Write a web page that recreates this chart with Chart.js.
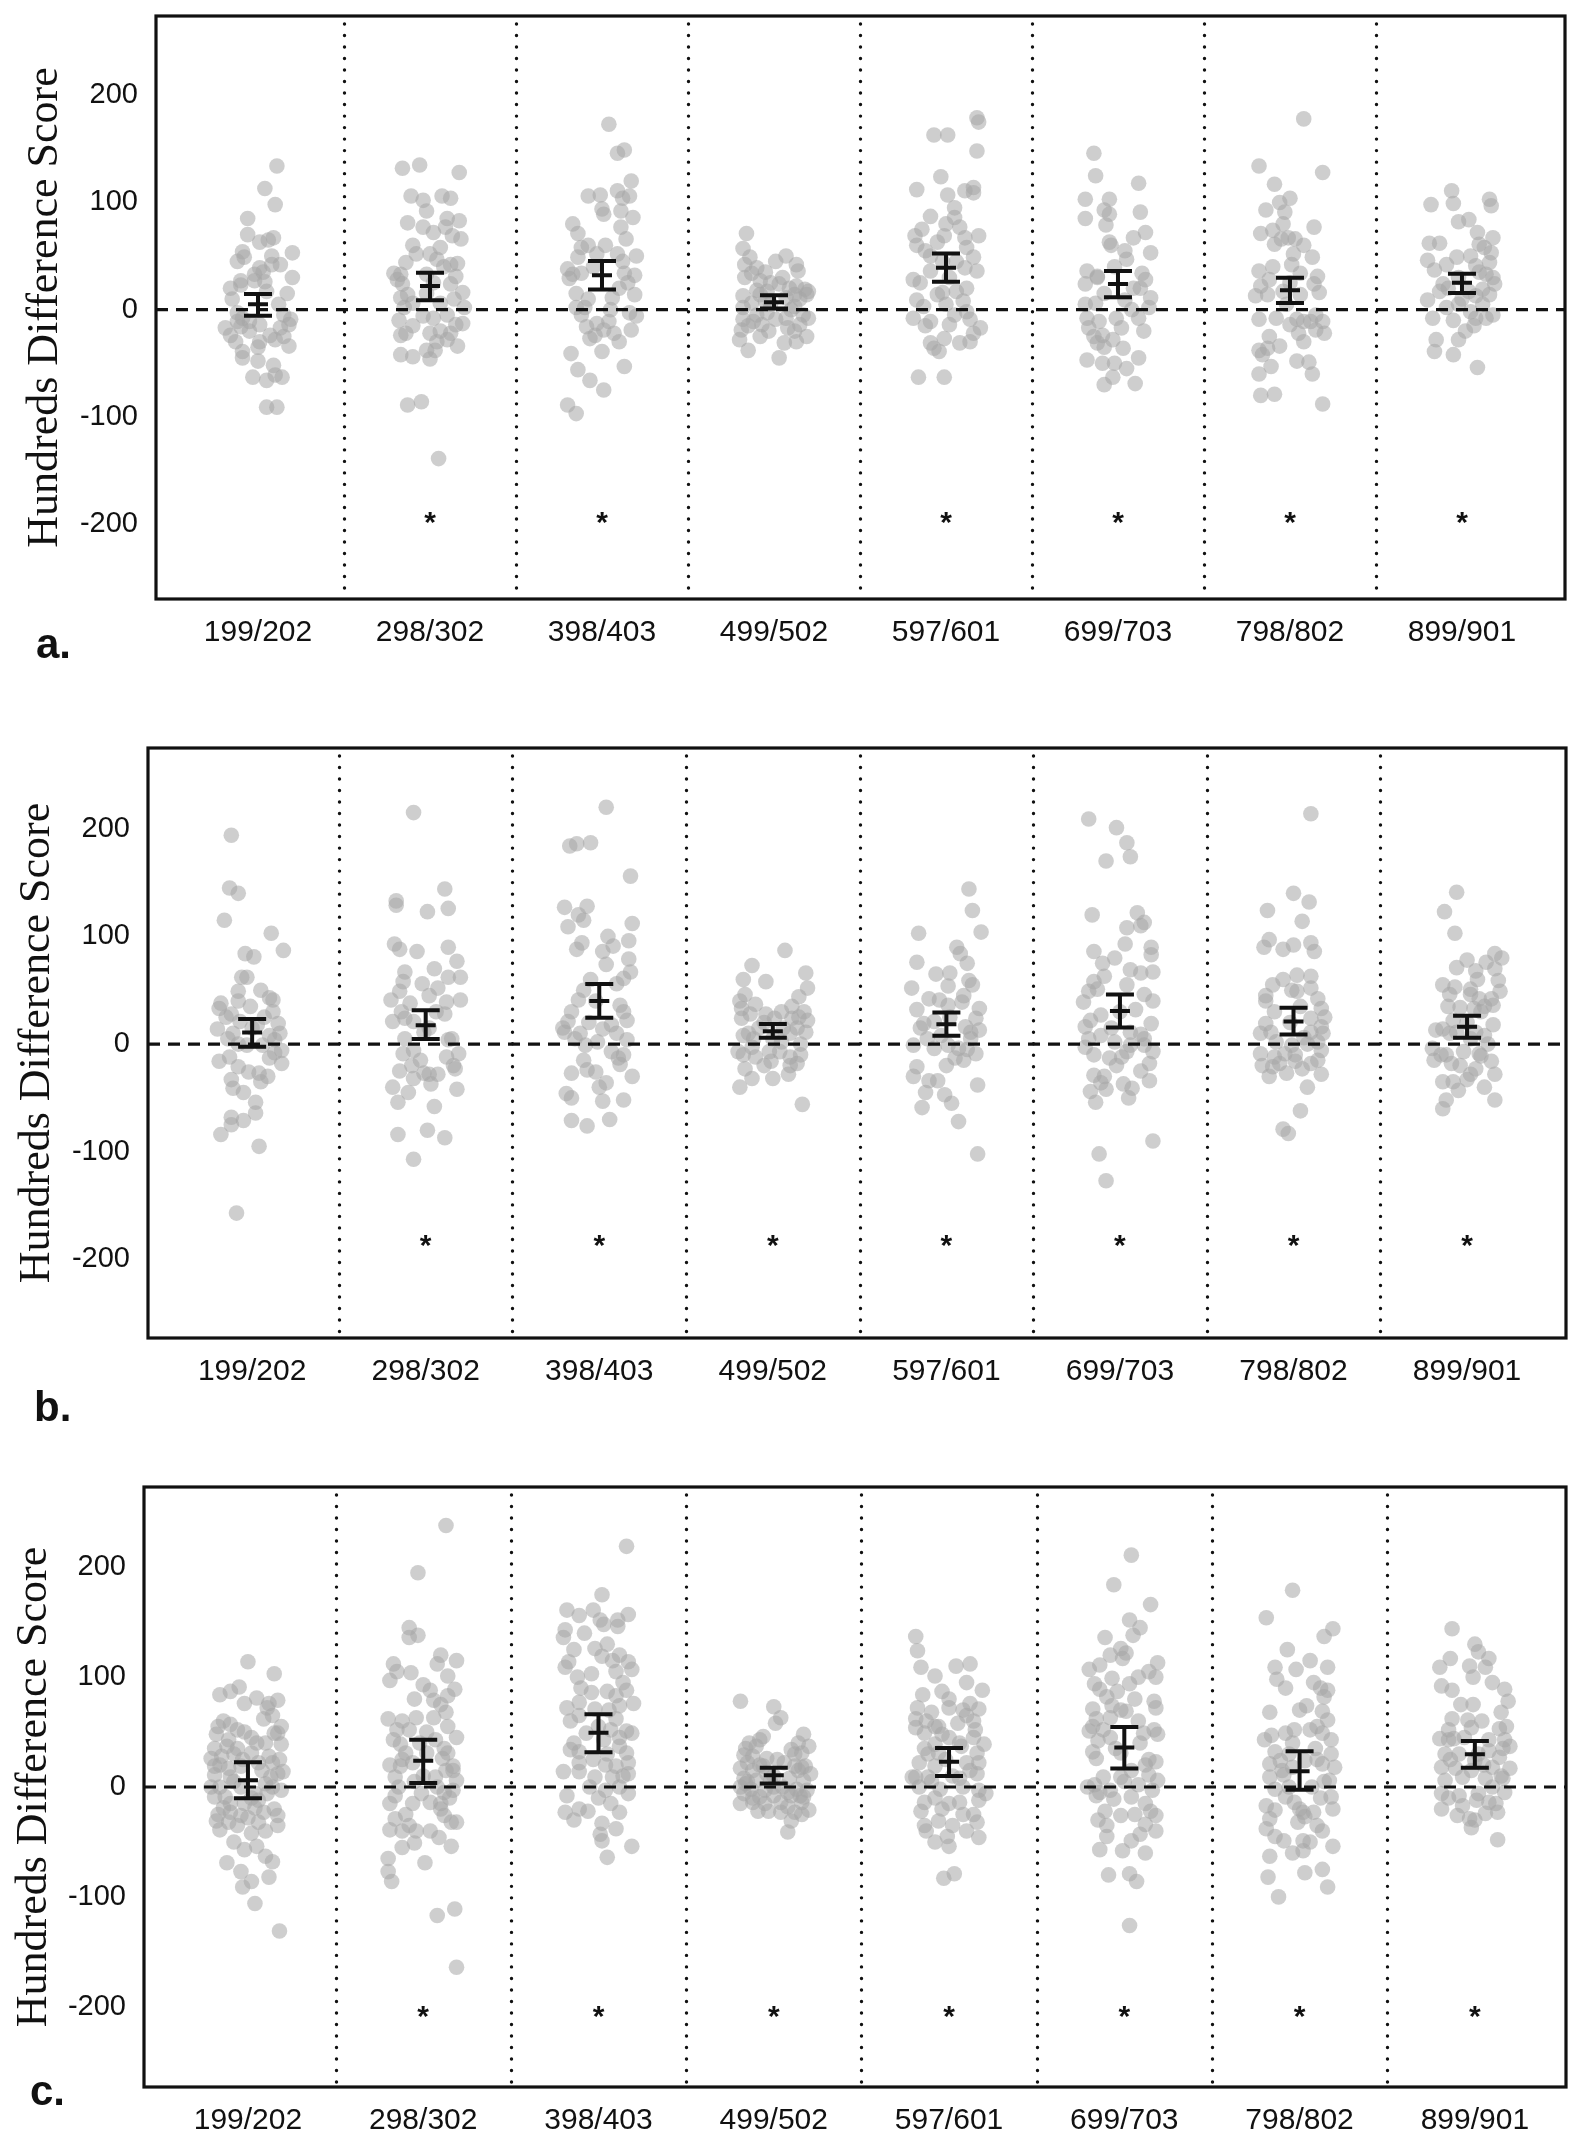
<!DOCTYPE html>
<html>
<head>
<meta charset="utf-8">
<script src="https://cdn.jsdelivr.net/npm/chart.js@4.4.1/dist/chart.umd.min.js"></script>
<style>
  html, body { margin: 0; padding: 0; background: #ffffff; }
  body { width: 1594px; height: 2146px; position: relative; overflow: hidden; }
  canvas { position: absolute; left: 0; }
  .plabel { position: absolute; font-family: "Liberation Sans", Arial, sans-serif; font-weight: bold; font-size: 42px; line-height: 48px; color: #111; }
</style>
</head>
<body>
<canvas id="chartA"></canvas>
<canvas id="chartB"></canvas>
<canvas id="chartC"></canvas>
<div class="plabel" style="left:36px; top:620px;">a.</div>
<div class="plabel" style="left:34px; top:1383px;">b.</div>
<div class="plabel" style="left:30px; top:2067px;">c.</div>
<script>
// ---------------- DATA ----------------
const categories = ["199/202", "298/302", "398/403", "499/502", "597/601", "699/703", "798/802", "899/901"];
const yTicks = [-200, -100, 0, 100, 200];
const yTitle = "Hundreds Difference Score";

// Each point: [score, horizontal jitter in category units]
const pointsA = [
  [[134,.11],[113,.04],[98,.10],[85,-.06],[70,-.06],[63,.01],[67,.09],[65,.06],[53,.20],[54,-.09],[49,-.08],[50,.08],[42,.13],[30,.20],[33,-.02],[27,-.10],[23,-.10],[26,.04],[15,.17],[17,.05],[-3,-.12],[-8,-.09],[-17,-.19],[-24,-.16],[-30,-.13],[-39,-.09],[-45,-.09],[-16,-.10],[-14,.01],[-24,.07],[-28,.10],[-30,.01],[-14,.18],[-9,.19],[-34,.18],[-48,0],[-52,.09],[-63,-.03],[-66,.05],[-61,.10],[-63,.14],[-91,.05],[-91,.11],[-11,-.05],[-5,.15],[-17,.13],[27,-.02],[42,.08],[39,.01],[-11,-.12],[10,-.15],[-20,-.05],[5,.12],[35,.03],[-35,0],[20,-.16],[-25,.15],[45,-.12]],
  [[132,-.16],[135,-.06],[128,.17],[106,-.11],[102,-.04],[92,-.02],[106,.07],[104,.12],[81,-.13],[77,-.04],[72,.02],[85,.10],[83,.17],[69,.13],[66,.18],[58,.06],[52,0],[47,.04],[44,-.14],[42,.12],[43,.16],[33,-.17],[28,-.19],[24,-.16],[31,.15],[24,.12],[16,.19],[11,-.17],[14,-.13],[6,-.10],[6,.06],[2,.20],[-6,-.04],[-8,.02],[-5,.10],[-14,.15],[-13,.19],[-24,-.17],[-22,-.14],[-22,0],[-20,.06],[-22,.12],[-28,.10],[-34,.16],[-42,-.17],[-44,-.10],[-38,-.02],[-38,.03],[-46,0],[-89,-.13],[-86,-.05],[-139,.05],[34,-.21],[52,-.08],[77,.09],[2,-.15],[33,-.02],[15,-.02],[-15,-.10],[40,.08],[60,-.10],[-30,.04],[25,.02],[10,.14],[-10,-.18]],
  [[173,.04],[146,.09],[149,.13],[120,.17],[106,-.08],[107,-.01],[111,.09],[104,.12],[106,.16],[94,0],[89,.01],[92,.11],[86,.18],[80,-.17],[71,-.14],[77,.11],[66,.14],[58,-.12],[60,-.08],[52,-.03],[49,-.14],[52,.09],[50,.20],[38,-.20],[33,-.17],[29,-.19],[34,-.12],[34,.13],[32,.19],[20,.10],[14,.19],[11,.06],[2,-.15],[2,-.10],[-3,.16],[-6,.20],[-16,-.09],[-13,-.03],[-11,.04],[-27,-.07],[-24,-.04],[-19,.01],[-22,.07],[-19,.17],[-41,-.18],[-39,0],[-56,-.14],[-66,-.07],[-75,.01],[-53,.13],[-89,-.20],[-97,-.15],[0,.05],[40,-.05],[25,.15],[-30,.10],[10,-.08],[60,.02],[-5,-.12],[45,.12],[15,-.15]],
  [[71,-.16],[57,-.18],[49,-.14],[42,-.17],[39,-.10],[45,.01],[50,.07],[42,.13],[36,.14],[30,-.17],[34,-.13],[27,-.08],[24,.03],[20,.09],[22,.13],[19,.18],[17,.20],[13,-.18],[6,-.13],[14,-.08],[17,-.04],[11,.07],[14,.12],[14,.19],[-9,-.18],[-19,-.19],[-28,-.20],[-38,-.15],[-14,-.07],[-20,-.03],[-9,.01],[-8,.07],[-17,.08],[-14,.15],[-8,.20],[-25,.19],[-30,.13],[-31,.06],[-45,.03],[-3,-.04],[3,.12],[-5,-.10],[2,-.18],[-11,-.12],[5,-.02],[10,.15],[-15,-.15],[25,-.02],[0,.10],[-20,.12],[30,.05],[8,-.05],[-5,.17],[18,-.10],[-25,-.08],[35,-.05]],
  [[163,-.07],[163,.01],[175,.19],[179,.18],[148,.18],[124,-.03],[112,-.17],[107,.01],[111,.11],[114,.16],[109,.16],[87,-.09],[86,.05],[80,0],[77,.08],[69,-.18],[60,-.17],[63,-.05],[69,-.01],[67,.11],[69,.19],[50,-.09],[49,.16],[28,-.19],[25,-.15],[36,-.09],[39,.11],[36,.18],[14,-.05],[16,-.02],[17,.06],[8,.10],[9,-.17],[3,-.13],[-8,-.19],[-11,-.09],[-14,.02],[-5,.05],[-2,.12],[-9,.14],[-17,.20],[-22,.16],[-27,-.01],[-31,-.09],[-39,-.04],[-31,.08],[-30,.14],[-63,-.16],[-63,-.01],[-36,-.07],[58,.12],[45,.06],[30,.02],[55,-.12],[20,.12],[-15,-.12],[95,.05],[45,-.02],[5,0],[75,-.14]],
  [[146,-.14],[125,-.13],[118,.12],[103,-.19],[103,-.05],[91,.13],[93,-.08],[89,-.05],[85,-.19],[79,-.07],[63,-.05],[60,-.04],[67,.09],[72,.16],[53,.19],[47,.05],[36,-.18],[31,-.12],[24,-.19],[34,.14],[28,.16],[20,.13],[11,.19],[9,.04],[5,-.19],[6,-.13],[2,.18],[-8,-.18],[-8,-.01],[-8,.12],[-17,-.17],[-25,-.14],[-24,-.09],[-31,-.12],[-28,-.03],[-17,.02],[-36,.03],[-47,-.18],[-50,-.09],[-50,-.02],[-55,.05],[-63,-.03],[-70,-.08],[-69,.10],[-11,-.11],[20,.09],[40,-.02],[15,-.08],[-35,-.08],[55,.04],[0,.08],[-20,.15],[30,-.12],[-45,.12]],
  [[178,.08],[134,-.18],[128,.19],[117,-.09],[104,0],[100,-.06],[93,-.14],[91,-.03],[77,.14],[71,-.17],[74,-.10],[66,-.05],[67,-.01],[66,.03],[61,-.09],[52,.02],[49,.13],[42,.01],[36,-.18],[28,-.12],[22,-.17],[13,-.20],[34,.06],[31,.16],[24,.14],[16,.17],[14,-.13],[-9,-.18],[-8,-.08],[-14,0],[-9,.04],[-11,.08],[-11,.12],[-22,.05],[-19,.15],[-11,.19],[-22,.20],[-38,-.18],[-36,-.13],[-34,-.06],[-42,-.16],[-53,-.11],[-60,-.18],[-48,.04],[-49,.11],[-60,.13],[-80,-.17],[-79,-.09],[-88,.19],[17,-.04],[14,.06],[5,-.02],[40,-.10],[-25,-.12],[60,.08],[-5,.15],[25,0],[-30,.08],[80,-.04]],
  [[111,-.06],[99,-.05],[98,-.18],[103,.16],[97,.17],[82,-.02],[84,.04],[72,.09],[67,.18],[62,-.19],[62,-.13],[61,.10],[58,.13],[53,.17],[49,-.03],[46,-.20],[42,-.09],[37,-.16],[41,.08],[44,.16],[33,.14],[30,.18],[24,-.11],[17,-.13],[9,-.20],[13,.08],[14,.16],[24,.19],[2,-.09],[-8,-.17],[5,-.02],[-2,.05],[-8,.08],[-8,.14],[-5,.18],[-15,.07],[-28,-.15],[-39,-.16],[-28,-.02],[-42,-.05],[-54,.09],[17,.04],[19,.12],[30,-.02],[10,0],[-20,.02],[50,.05],[20,-.08],[35,.10],[-10,-.05],[5,.12]]
];
const meanA = [5, 22, 32, 7, 39, 24, 18, 25];
const lowA  = [-5.6, 8.8, 18.8, 1, 26, 11.6, 6.3, 15.6];
const highA = [14.7, 34.4, 45.4, 13.5, 52.3, 36, 29.7, 33.5];
const starsA = [false, true, true, false, true, true, true, true];

const pointsB = [
  [[194,-.12],[145,-.13],[140,-.08],[115,-.16],[103,.11],[87,.18],[84,-.04],[81,.01],[62,-.06],[62,-.03],[49,-.08],[40,-.08],[38,-.18],[33,-.19],[35,-.01],[43,.10],[41,.12],[30,.12],[28,-.12],[19,.15],[14,-.20],[10,-.11],[8,.10],[4,.13],[-1,-.03],[-1,.06],[-6,.17],[-16,-.19],[-12,-.13],[-21,-.08],[-26,-.02],[-27,.04],[-30,.09],[-33,-.12],[-41,-.11],[-18,.17],[-13,.10],[-54,.02],[-64,.02],[-68,-.12],[-75,-.12],[-71,-.05],[-84,-.18],[-95,.04],[-157,-.09],[5,-.14],[18,.03],[21,-.07],[25,.07],[0,-.08],[15,0],[-8,.13],[25,-.15],[-35,.05],[50,.05],[-45,-.05],[10,.16]],
  [[215,-.07],[144,.11],[133,-.17],[129,-.17],[123,.01],[126,.13],[93,-.18],[88,-.15],[86,-.05],[90,.13],[77,.18],[67,-.12],[58,-.13],[56,-.02],[52,.07],[62,.13],[62,.20],[41,-.20],[49,-.15],[38,-.09],[30,.06],[39,.12],[41,.20],[21,-.19],[24,-.12],[21,-.07],[28,.11],[4,.13],[-9,-.13],[-6,-.07],[-9,.19],[-12,.12],[-25,-.15],[-20,-.08],[-27,-.01],[-28,.02],[-28,.07],[-32,-.07],[-37,.03],[-23,.17],[-40,-.19],[-54,-.16],[-42,.18],[-58,.05],[-84,-.16],[-80,.01],[-87,.11],[-107,-.07],[11,-.01],[5,-.12],[15,.02],[-15,-.03],[45,.02],[-45,-.10],[30,-.14],[5,.15],[-20,.16],[70,.05]],
  [[220,.04],[184,-.17],[186,-.13],[187,-.05],[156,.18],[127,-.20],[128,-.07],[120,-.12],[115,-.09],[109,-.18],[112,.19],[96,.17],[94,-.10],[88,-.13],[91,.08],[86,.02],[74,.04],[79,.17],[67,.18],[61,.14],[56,.10],[50,-.09],[41,-.12],[36,.12],[30,-.16],[21,-.18],[22,.16],[11,-.20],[10,-.11],[14,.02],[18,.07],[10,.10],[4,.16],[-1,-.08],[-7,.07],[-13,.11],[-19,.12],[-15,-.09],[-24,-.07],[-26,-.02],[-27,-.16],[-30,.19],[-36,.04],[-46,-.19],[-50,-.16],[-53,.02],[-52,.14],[-71,-.16],[-76,-.07],[-70,.06],[2,-.01],[15,-.21],[40,-.02],[20,-.06],[-10,.14],[60,-.05],[-40,0],[100,.05],[5,-.14],[30,.14]],
  [[87,.07],[73,-.12],[60,-.17],[58,-.04],[66,.19],[52,.20],[46,-.16],[40,-.19],[37,-.10],[33,-.18],[44,.15],[35,.11],[24,-.18],[28,-.13],[28,-.04],[24,.01],[30,.18],[24,.11],[22,.20],[11,.19],[8,-.17],[5,-.11],[10,.10],[2,.05],[-7,-.20],[-10,-.17],[-12,-.10],[-7,-.02],[-7,.04],[-10,.16],[-16,-.01],[-20,.10],[-18,.14],[-23,-.16],[-32,-.12],[-32,0],[-28,.09],[-40,-.19],[-56,.17],[15,-.08],[15,.06],[5,0],[15,.14],[-3,-.12],[20,-.05],[-20,-.05],[30,.05],[0,.16],[10,-.14],[-12,.10],[25,.15]],
  [[144,.13],[124,.15],[103,-.16],[104,.20],[76,-.17],[90,.06],[84,.08],[75,.12],[66,.02],[59,.13],[55,.15],[54,.01],[52,-.20],[42,-.10],[41,-.04],[36,.01],[39,.09],[32,-.17],[33,.19],[19,-.13],[21,-.07],[24,.17],[16,.11],[11,.14],[13,.19],[-1,-.19],[-4,-.07],[-1,.01],[-4,.07],[-9,.17],[-13,.05],[-15,.10],[-21,-.17],[-30,-.19],[-34,-.10],[-34,-.05],[-38,.18],[-47,-.01],[-55,.03],[-59,-.14],[-72,.07],[-102,.18],[5,-.11],[8,-.03],[25,.02],[-20,0],[5,.14],[45,.10],[-45,-.12],[15,-.15],[65,-.06],[-5,.12]],
  [[209,-.18],[201,-.02],[187,.04],[174,.06],[170,-.08],[120,-.16],[122,.10],[108,.04],[110,.12],[113,.14],[93,.03],[86,-.15],[80,-.03],[90,.18],[83,.18],[69,.06],[66,.12],[67,.19],[63,-.09],[58,-.15],[49,-.18],[51,-.13],[39,-.21],[46,.14],[40,.19],[32,.09],[27,-.11],[22,-.17],[16,-.20],[19,.18],[8,-.11],[5,-.18],[11,.06],[9,.12],[-3,-.20],[-10,-.15],[-13,-.06],[-12,.01],[-1,.14],[-7,.19],[-1,.06],[-18,.17],[-29,-.15],[-30,-.09],[-36,-.11],[-42,-.08],[-37,.02],[-41,.07],[-34,.17],[-44,-.17],[-54,-.14],[-102,-.12],[-127,-.08],[-90,.19],[2,-.03],[-7,.04],[30,0],[-20,-.02],[55,.04],[5,.14],[-25,.12],[75,-.10],[15,-.05],[-50,.05]],
  [[214,.10],[140,0],[132,.09],[124,-.15],[114,.05],[97,-.14],[90,-.17],[88,-.06],[92,0],[94,.10],[86,.12],[64,.02],[63,.10],[55,-.12],[50,-.01],[49,.02],[52,.10],[42,.14],[40,-.16],[30,-.11],[33,.16],[25,.18],[24,.10],[19,-.16],[10,-.19],[11,-.13],[11,.10],[16,.16],[6,.06],[2,-.10],[-9,-.19],[-12,-.11],[-9,-.05],[-10,.01],[-6,.16],[-20,-.18],[-21,-.12],[-18,-.08],[-16,.01],[-23,.05],[-18,.10],[-27,-.04],[-28,.16],[-40,.08],[-62,.04],[-79,-.06],[-83,-.03],[-1,-.01],[2,.14],[20,-.02],[0,.08],[35,.04],[-30,-.14],[60,-.06],[10,.17],[-15,.14],[45,-.16]],
  [[141,-.06],[123,-.13],[103,-.07],[84,.16],[80,.20],[78,0],[71,-.06],[68,.05],[76,.11],[70,.16],[59,.18],[53,-.07],[51,.02],[49,.19],[46,-.10],[46,.02],[42,.07],[42,.14],[35,-.11],[34,-.04],[33,.04],[35,.10],[36,.15],[22,-.08],[18,.15],[8,.10],[13,-.18],[14,-.14],[11,.05],[-4,-.20],[-10,-.15],[-10,-.12],[-7,-.02],[-9,.07],[-11,.08],[-15,-.19],[-18,-.09],[-16,.14],[-23,.05],[-28,.02],[-28,.16],[-35,-.14],[-35,-.08],[-43,-.05],[-33,0],[-52,-.12],[-60,-.14],[-52,.16],[5,.02],[11,-.06],[20,0],[0,.12],[-20,-.04],[55,-.14],[30,.08],[-40,.10],[10,-.10],[60,.06]]
];
const meanB = [10.8, 17.6, 40, 12, 18.5, 30.8, 21, 16];
const lowB  = [-2.5, 4.6, 24.4, 5.9, 7.7, 15.5, 9, 5.9];
const highB = [23.2, 31.5, 55.7, 18.6, 29.4, 46.1, 33.7, 26.3];
const starsB = [false, true, true, true, true, true, true, true];

const pointsC = [
  [[114,0],[103,.15],[84,-.16],[87,-.10],[91,-.05],[81,.05],[76,-.02],[76,.12],[79,.17],[72,.11],[62,.09],[55,-.17],[57,-.10],[52,-.06],[55,.19],[49,.17],[48,-.18],[45,.02],[40,.10],[39,.19],[35,-.19],[37,-.12],[35,-.06],[31,.02],[28,.12],[26,-.21],[28,-.15],[25,-.03],[22,.14],[19,-.19],[17,-.11],[19,-.04],[12,.17],[14,.20],[11,-.19],[9,-.10],[9,.13],[-3,.19],[-6,.11],[-9,-.19],[-9,-.13],[-6,.04],[-19,-.14],[-25,-.17],[-23,-.10],[-26,-.04],[-19,.04],[-23,.09],[-20,.15],[-26,.17],[-31,-.18],[-32,-.11],[-35,-.06],[-32,.06],[-39,-.16],[-42,.02],[-35,.17],[-54,.05],[-57,-.02],[-63,.10],[-68,.14],[-69,-.12],[-77,-.04],[-82,.12],[-86,.02],[-91,-.03],[-106,.04],[-131,.18],[0,-.16],[0,-.04],[3,.10],[-12,.06],[0,-.21],[-15,-.02],[43,-.11],[49,.15],[22,.06],[30,-.08],[15,.08],[0,.14],[-15,-.10],[40,.05],[60,-.14],[20,-.16],[-40,.10],[5,-.08],[65,.14],[-10,.02],[50,-.02],[-50,-.08],[25,.18],[-28,0]],
  [[238,.13],[195,-.03],[145,-.08],[136,-.08],[138,-.03],[112,-.17],[105,-.15],[97,-.19],[104,-.07],[112,.08],[115,.19],[101,.14],[93,0],[88,.04],[89,.18],[80,-.05],[79,.06],[83,.14],[62,-.20],[63,-.04],[63,.06],[68,.13],[55,.14],[52,-.15],[52,-.08],[43,-.17],[39,-.13],[43,.07],[45,.19],[31,.14],[20,-.19],[19,-.13],[22,-.06],[26,.11],[19,.17],[9,-.16],[9,.07],[6,.19],[15,.13],[-3,.17],[-8,-.16],[-15,-.19],[-15,-.06],[-6,-.01],[-14,.04],[-15,.10],[-26,.12],[-32,.16],[-32,.19],[-29,-.16],[-39,-.19],[-40,-.12],[-35,-.08],[-40,-.04],[-40,.04],[-46,.09],[-51,-.05],[-54,.16],[-65,-.20],[-77,-.20],[-86,-.18],[-69,.01],[-117,.08],[-111,.18],[-164,.19],[31,-.10],[31,.02],[0,-.14],[0,.08],[25,-.12],[10,0],[40,-.02],[-20,.10],[60,-.12],[-5,.12],[75,.10],[50,.02],[-25,-.10],[15,.17],[35,.12],[-55,-.12],[120,.10],[5,-.05],[-10,.15]],
  [[219,.16],[175,.02],[161,-.18],[156,-.11],[161,-.03],[152,.01],[148,.03],[152,.11],[157,.17],[143,-.19],[136,-.20],[140,-.08],[146,.11],[125,-.14],[114,-.17],[109,-.19],[126,-.02],[119,.02],[120,.12],[114,.17],[103,-.04],[105,.10],[107,.19],[86,-.04],[87,.05],[83,.10],[88,.16],[72,-.18],[77,-.11],[71,-.02],[74,.12],[76,.20],[65,-.11],[62,.10],[51,.16],[52,.07],[49,.19],[34,-.16],[32,-.11],[37,.12],[31,.16],[20,.04],[22,.17],[14,-.20],[14,-.11],[9,-.02],[9,.08],[12,.17],[0,-.05],[-3,.04],[0,.12],[-6,.17],[-8,-.18],[-23,-.19],[-20,-.11],[-22,-.06],[-15,.07],[-23,.12],[-33,.02],[-38,.10],[-43,.01],[-49,.02],[-54,.19],[-64,.05],[49,-.07],[43,.03],[22,-.11],[19,.10],[55,0],[40,-.14],[90,-.10],[30,.05],[130,.05],[70,.06],[-10,0],[100,-.12],[60,-.16],[10,.14],[-30,-.14],[95,.14],[25,-.03],[115,.08],[45,.12]],
  [[78,-.19],[73,0],[63,.04],[58,.01],[46,-.06],[40,-.14],[37,-.10],[48,.17],[37,.20],[34,.10],[31,.16],[29,-.17],[28,-.12],[26,-.04],[22,.06],[19,.12],[19,.18],[17,-.19],[15,-.12],[19,-.06],[12,.21],[8,-.17],[6,-.10],[5,-.02],[8,.09],[6,.17],[0,-.19],[-2,-.13],[-3,-.05],[0,.05],[-2,.13],[-3,.19],[-6,-.17],[-9,-.08],[-8,0],[-8,.10],[-9,.17],[-15,-.19],[-14,-.12],[-15,-.05],[-14,.04],[-14,.16],[-22,-.09],[-22,-.03],[-23,.04],[-23,.12],[-21,.20],[-31,.10],[-41,.08],[22,-.15],[43,-.08],[40,.14],[3,-.16],[10,0],[20,-.08],[-5,.08],[30,.12],[15,.14],[-10,-.12],[5,-.15],[25,.02],[-18,.08],[12,-.04],[0,0],[35,-.16],[-25,.16],[18,.16],[-8,.15]],
  [[137,-.19],[124,-.18],[109,-.16],[101,-.08],[110,.04],[112,.12],[88,.19],[84,-.15],[87,-.04],[80,0],[76,.12],[71,.17],[72,-.18],[68,-.10],[72,0],[65,.10],[62,-.19],[60,-.13],[55,-.06],[58,.05],[52,.15],[54,-.19],[49,-.14],[48,-.04],[45,.14],[39,.20],[35,-.14],[31,-.06],[37,.07],[31,.16],[22,-.17],[19,-.08],[22,.10],[22,.17],[9,-.19],[9,-.12],[8,.06],[12,.16],[0,-.17],[-2,-.05],[0,.08],[-3,.17],[-14,-.14],[-14,.06],[-12,.17],[-22,-.16],[-20,-.04],[-25,.08],[-31,-.06],[-35,-.14],[-40,-.13],[-35,.02],[-40,.10],[-32,.16],[-46,.17],[-45,-.01],[-54,0],[-83,-.03],[-79,.03],[-6,.21],[9,-.21],[39,-.08],[25,-.02],[40,.06],[10,.02],[55,-.08],[-10,-.08],[70,.08],[-25,.14],[30,-.12],[15,.12],[95,.10],[-50,-.08],[5,-.10],[45,0],[-15,0],[60,.14]],
  [[211,.04],[184,-.06],[166,.15],[152,.03],[145,.09],[136,-.11],[138,.05],[126,-.02],[122,.01],[117,-.01],[113,.19],[107,-.20],[111,-.14],[105,.14],[100,.18],[99,-.07],[94,.03],[94,-.17],[89,-.14],[87,-.04],[82,-.10],[78,.17],[72,.18],[71,-.18],[74,-.07],[69,.01],[62,-.16],[63,-.08],[51,-.20],[52,-.12],[52,.17],[48,.19],[49,.11],[42,-.15],[40,.09],[32,-.18],[26,-.16],[31,-.02],[23,.18],[20,.12],[11,.14],[6,.19],[2,-.17],[9,-.12],[9,-.02],[-3,-.08],[2,.08],[-8,-.16],[-11,-.06],[-9,.04],[-22,-.11],[-26,-.02],[-25,.06],[-22,.15],[-26,.18],[-34,.12],[-35,-.10],[-45,-.10],[-43,.09],[-40,.18],[-49,.04],[-57,-.14],[-58,-.01],[-80,-.09],[-79,.03],[-86,.07],[-126,.03],[-3,.16],[0,-.21],[35,-.05],[60,.08],[15,.04],[-15,.12],[80,.06],[45,-.08],[-30,-.15],[5,0],[100,.08],[25,.14],[-60,.12],[120,-.08],[55,-.18],[-5,-.14],[70,-.02]],
  [[179,-.04],[154,-.19],[144,.19],[137,.14],[125,-.07],[109,-.14],[98,-.13],[107,-.02],[109,.16],[95,.08],[90,.12],[88,.16],[82,.14],[74,.04],[68,-.17],[69,.13],[61,.16],[47,-.16],[49,-.08],[52,-.03],[52,.06],[49,.13],[43,-.20],[43,.18],[32,-.14],[35,.09],[30,.18],[21,-.17],[24,-.11],[21,.13],[18,.20],[9,-.17],[11,-.09],[6,.17],[-2,-.14],[0,.07],[-9,-.08],[-9,.18],[-17,-.19],[-21,-.14],[-14,-.03],[-23,.02],[-23,.08],[-20,.19],[-29,-.17],[-32,-.01],[-27,.03],[-38,-.19],[-49,-.09],[-49,.02],[-50,.06],[-40,.13],[-54,.19],[-58,.02],[-63,-.17],[-78,.03],[-75,.13],[-82,-.18],[-91,.16],[-100,-.12],[18,-.04],[24,.03],[15,-.10],[30,-.06],[0,-.06],[55,.10],[-35,.10],[70,0],[-10,.12],[40,-.04],[-60,-.04],[90,-.08],[25,.10],[-20,0],[115,.06],[5,.14],[-45,-.14]],
  [[144,-.13],[130,0],[123,.02],[117,.08],[109,.06],[109,-.20],[117,-.14],[110,-.03],[100,-.01],[92,-.19],[88,-.13],[89,.17],[78,.19],[75,-.01],[68,.15],[62,-.13],[61,-.04],[52,-.15],[54,-.02],[53,.14],[44,-.20],[44,-.12],[43,.17],[37,.20],[30,-.17],[30,-.09],[33,.08],[27,.14],[18,-.19],[17,-.11],[18,.10],[17,.20],[6,-.17],[9,-.07],[8,.06],[8,.16],[-6,-.19],[-8,-.09],[-6,.02],[-5,.17],[-20,-.19],[-17,-.07],[-12,.01],[-14,.08],[-26,-.10],[-29,-.03],[-24,.06],[-23,.13],[-37,-.02],[-48,.13],[43,-.15],[43,.08],[24,0],[30,.02],[15,-.02],[45,-.06],[0,.10],[60,.04],[-15,.12],[25,-.14],[75,-.08],[-30,0],[10,.15],[95,.10],[35,.16],[-10,-.15],[55,.18],[20,.05]]
];
const meanC = [6.2, 24, 49.3, 10.8, 23, 36, 14.3, 29.8];
const lowC  = [-10.2, 3.7, 31.7, 3.1, 9.9, 16.9, -2.4, 17.6];
const highC = [22.5, 43.1, 66.2, 17.6, 35.4, 54.5, 32.5, 41.9];
const starsC = [false, true, true, true, true, true, true, true];

// ---------------- RENDERING ----------------
const INK = '#111111';
const SANS = '"Liberation Sans", Arial, Helvetica, sans-serif';
const SERIF = '"Liberation Serif", "Times New Roman", Times, serif';

const panels = [
  { id: 'chartA', top: 0,    height: 700, padTop: 16, boxLeft: 156, boxRight: 1565, xAxisH: 101, xMin: -0.593, xMax: 7.599, yMin: -270, yMax: 274, titlePad: 23, starY: -192,
    points: pointsA, mean: meanA, low: lowA, high: highA, stars: starsA },
  { id: 'chartB', top: 720,  height: 700, padTop: 28, boxLeft: 148, boxRight: 1566, xAxisH: 82,  xMin: -0.600, xMax: 7.570, yMin: -273, yMax: 275, titlePad: 15, starY: -180,
    points: pointsB, mean: meanB, low: lowB, high: highB, stars: starsB },
  { id: 'chartC', top: 1440, height: 706, padTop: 47, boxLeft: 144, boxRight: 1566, xAxisH: 59,  xMin: -0.593, xMax: 7.520, yMin: -273, yMax: 273, titlePad: 12, starY: -202,
    points: pointsC, mean: meanC, low: lowC, high: highC, stars: starsC }
];

const decorPlugin = {
  id: 'decor',
  beforeDatasetsDraw(chart) {
    const { ctx, chartArea: a, scales: { x } } = chart;
    ctx.save();
    ctx.strokeStyle = INK;
    ctx.lineWidth = 3.4;
    ctx.lineCap = 'round';
    ctx.setLineDash([0.01, 11.5]);
    for (let i = 0; i < categories.length - 1; i++) {
      const px = Math.round(x.getPixelForValue(i + 0.5)) + 0.5;
      ctx.beginPath();
      ctx.moveTo(px, a.top + 8);
      ctx.lineTo(px, a.bottom - 2);
      ctx.stroke();
    }
    ctx.restore();
  },
  afterDatasetsDraw(chart) {
    const { ctx, chartArea: a, scales: { x, y } } = chart;
    const p = chart.options.plugins.decor;
    ctx.save();
    ctx.strokeStyle = INK;
    ctx.lineWidth = 3.2;
    ctx.lineCap = 'butt';
    ctx.setLineDash([12, 8]);
    const y0 = y.getPixelForValue(0);
    ctx.beginPath();
    ctx.moveTo(a.left, y0);
    ctx.lineTo(a.right, y0);
    ctx.stroke();
    ctx.setLineDash([]);
    ctx.lineWidth = 4;
    for (let i = 0; i < categories.length; i++) {
      const cx = x.getPixelForValue(i);
      const yl = y.getPixelForValue(p.low[i]);
      const yh = y.getPixelForValue(p.high[i]);
      const ym = y.getPixelForValue(p.mean[i]);
      ctx.beginPath();
      ctx.moveTo(cx, yh); ctx.lineTo(cx, yl);
      ctx.moveTo(cx - 14, yh); ctx.lineTo(cx + 14, yh);
      ctx.moveTo(cx - 14, yl); ctx.lineTo(cx + 14, yl);
      ctx.moveTo(cx - 10, ym); ctx.lineTo(cx + 10, ym);
      ctx.stroke();
    }
    ctx.fillStyle = INK;
    ctx.font = 'bold 30px ' + SANS;
    ctx.textAlign = 'center';
    ctx.textBaseline = 'alphabetic';
    for (let i = 0; i < categories.length; i++) {
      if (!p.stars[i]) continue;
      ctx.fillText('*', x.getPixelForValue(i), y.getPixelForValue(p.starY) + 17);
    }
    ctx.lineWidth = 3.2;
    ctx.strokeRect(a.left, a.top, a.right - a.left, a.bottom - a.top);
    ctx.restore();
  }
};

panels.forEach(P => {
  const canvas = document.getElementById(P.id);
  canvas.style.top = P.top + 'px';
  canvas.style.width = '1594px';
  canvas.style.height = P.height + 'px';
  canvas.width = 1594;
  canvas.height = P.height;
  const data = [];
  P.points.forEach((list, ci) => list.forEach(([score, jit]) => data.push({ x: ci + jit, y: score })));
  new Chart(canvas, {
    type: 'scatter',
    data: { datasets: [{
      data,
      pointRadius: 7.8,
      pointHoverRadius: 7.8,
      pointBackgroundColor: 'rgba(165,165,165,0.55)',
      pointBorderWidth: 0,
      pointBorderColor: 'rgba(0,0,0,0)'
    }] },
    options: {
      responsive: false,
      maintainAspectRatio: false,
      animation: false,
      events: [],
      devicePixelRatio: 1,
      layout: { padding: { top: P.padTop, right: 1594 - P.boxRight, bottom: 0, left: 0 } },
      plugins: {
        legend: { display: false },
        tooltip: { enabled: false },
        decor: { mean: P.mean, low: P.low, high: P.high, stars: P.stars, starY: P.starY }
      },
      scales: {
        x: {
          type: 'linear',
          min: P.xMin, max: P.xMax,
          grid: { display: false, drawTicks: false },
          border: { display: false },
          afterBuildTicks: s => { s.ticks = categories.map((c, i) => ({ value: i })); },
          afterFit: s => { s.height = P.xAxisH; s.paddingLeft = 0; s.paddingRight = 0; },
          ticks: {
            autoSkip: false, maxRotation: 0, minRotation: 0, padding: 16, color: INK,
            font: { family: SANS, size: 30 },
            callback: v => categories[Math.round(v)]
          }
        },
        y: {
          type: 'linear',
          min: P.yMin, max: P.yMax,
          grid: { display: false, drawTicks: false },
          border: { display: false },
          afterBuildTicks: s => { s.ticks = yTicks.map(v => ({ value: v })); },
          afterFit: s => { s.width = P.boxLeft; s.paddingTop = 0; s.paddingBottom = 0; },
          ticks: { padding: 18, color: INK, font: { family: SANS, size: 29 }, callback: v => String(v) },
          title: {
            display: true, text: yTitle, color: INK,
            font: { family: SERIF, size: 44, lineHeight: 1 },
            padding: { top: P.titlePad, bottom: 0 }
          }
        }
      }
    },
    plugins: [decorPlugin]
  });
});
</script>
</body>
</html>
